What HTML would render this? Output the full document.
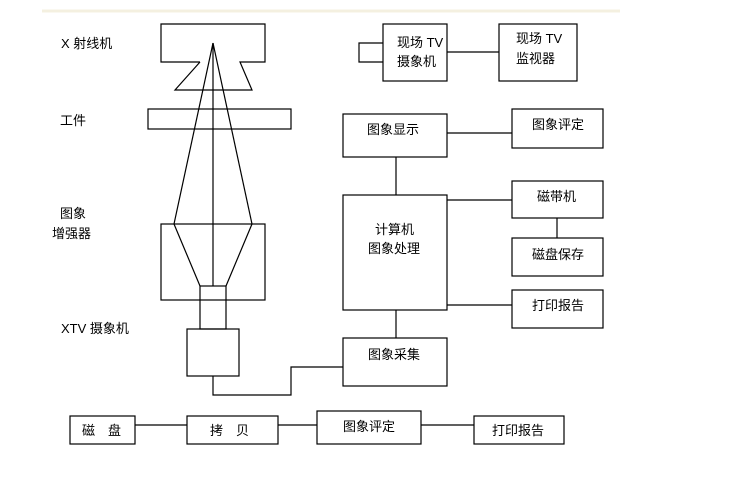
<!DOCTYPE html>
<html><head><meta charset="utf-8"><style>
html,body{margin:0;padding:0;background:#fff;width:739px;height:479px;overflow:hidden}
text{font-family:"Liberation Sans","Noto Sans CJK SC",sans-serif;font-size:13px;fill:#000}
</style></head><body>
<svg width="739" height="479" viewBox="0 0 739 479" xmlns="http://www.w3.org/2000/svg">
<line x1="42" y1="11" x2="620" y2="11" stroke="#f4f0e0" stroke-width="3"/>
<g fill="none" stroke="#000" stroke-width="1.2">
<!-- x-ray -->
<polyline points="200,62 161,62 161,24 265,24 265,62 240,62 252,90 175,90 200,62"/>
<line x1="213" y1="43" x2="174" y2="224"/>
<line x1="213" y1="43" x2="252" y2="224"/>
<line x1="213" y1="43" x2="213" y2="286"/>
<rect x="148" y="109" width="143" height="20" fill="none"/>
<rect x="161" y="224" width="104" height="76"/>
<line x1="174" y1="224" x2="200" y2="286"/>
<line x1="252" y1="224" x2="226" y2="286"/>
<rect x="200" y="286" width="26" height="43"/>
<rect x="187" y="329" width="52" height="47"/>
<polyline points="213,376 213,395 291,395 291,367 343,367"/>
<!-- right -->
<polyline points="383,43 359,43 359,62 383,62"/>
<rect x="383" y="24" width="64" height="57"/>
<rect x="499" y="24" width="78" height="57"/>
<line x1="447" y1="52" x2="499" y2="52"/>
<rect x="343" y="114" width="104" height="43"/>
<rect x="512" y="109" width="91" height="39"/>
<line x1="447" y1="133" x2="512" y2="133"/>
<line x1="396" y1="157" x2="396" y2="195"/>
<rect x="343" y="195" width="104" height="115"/>
<rect x="512" y="181" width="91" height="37"/>
<line x1="447" y1="200" x2="512" y2="200"/>
<line x1="557" y1="218" x2="557" y2="238"/>
<rect x="512" y="238" width="91" height="38"/>
<rect x="512" y="290" width="91" height="38"/>
<line x1="447" y1="305" x2="512" y2="305"/>
<line x1="396" y1="310" x2="396" y2="338"/>
<rect x="343" y="338" width="104" height="48"/>
<!-- bottom -->
<rect x="70" y="416" width="65" height="28"/>
<rect x="187" y="416" width="91" height="28"/>
<rect x="317" y="411" width="104" height="33"/>
<rect x="474" y="416" width="90" height="28"/>
<line x1="135" y1="425" x2="187" y2="425"/>
<line x1="278" y1="425" x2="317" y2="425"/>
<line x1="421" y1="425" x2="474" y2="425"/>
</g>
<text x="61" y="48">X 射线机</text>
<text x="60" y="125">工件</text>
<text x="60" y="218">图象</text>
<text x="52" y="238">增强器</text>
<text x="61" y="333">XTV 摄象机</text>
<text x="397" y="47">现场 TV</text>
<text x="397" y="66">摄象机</text>
<text x="516" y="43">现场 TV</text>
<text x="516" y="63">监视器</text>
<text x="367" y="134">图象显示</text>
<text x="532" y="129">图象评定</text>
<text x="537" y="201">磁带机</text>
<text x="375" y="234">计算机</text>
<text x="368" y="253">图象处理</text>
<text x="532" y="259">磁盘保存</text>
<text x="532" y="310">打印报告</text>
<text x="368" y="359">图象采集</text>
<text x="82" y="435">磁　盘</text>
<text x="210" y="435">拷　贝</text>
<text x="343" y="431">图象评定</text>
<text x="492" y="435">打印报告</text>
</svg>
</body></html>
